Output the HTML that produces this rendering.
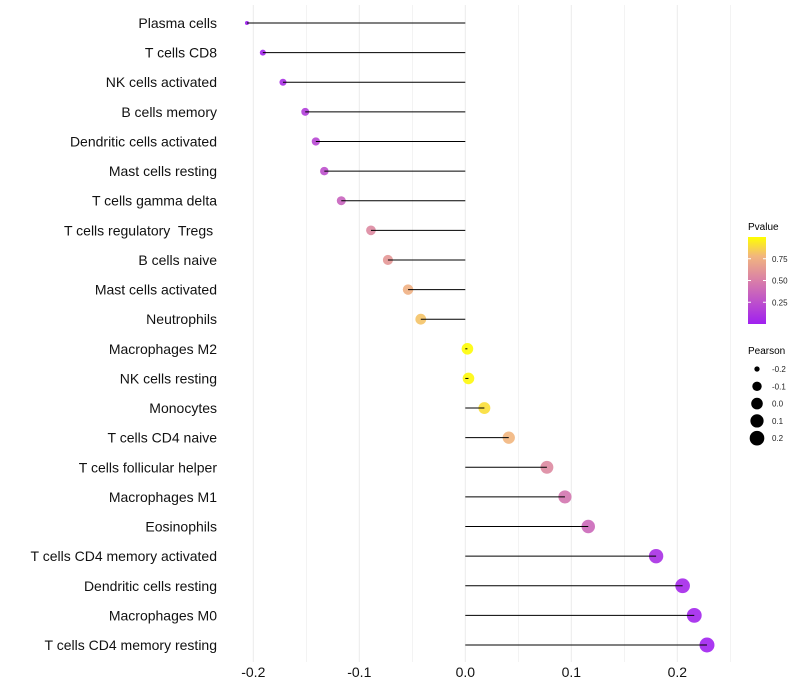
<!DOCTYPE html>
<html><head><meta charset="utf-8"><style>
body{margin:0;background:#fff;font-family:"Liberation Sans",sans-serif;}
svg{display:block}
#ylabels text{white-space:pre}
</style></head><body>
<svg id="chart" width="800" height="700">
<g id="grid"></g>
<g id="ylabels"></g>
<g id="xlabels"></g>
<g id="marks"></g>
<g id="legend">
 <defs><linearGradient id="pg" x1="0" y1="1" x2="0" y2="0">
  <stop offset="0" stop-color="#A020F0"/><stop offset="0.5" stop-color="#D97FA8"/><stop offset="0.78" stop-color="#F2B67E"/><stop offset="1" stop-color="#FFFF00"/>
 </linearGradient></defs>
 <text x="748" y="230" font-size="10">Pvalue</text>
 <rect x="748" y="237" width="18" height="87" fill="url(#pg)"/>
 <g id="cbticks"></g>
 <text x="748" y="354" font-size="10">Pearson</text>
 <g id="sizeleg"></g>
</g>
</svg>
<script>
const categories=["Plasma cells","T cells CD8","NK cells activated","B cells memory","Dendritic cells activated","Mast cells resting","T cells gamma delta","T cells regulatory  Tregs ","B cells naive","Mast cells activated","Neutrophils","Macrophages M2","NK cells resting","Monocytes","T cells CD4 naive","T cells follicular helper","Macrophages M1","Eosinophils","T cells CD4 memory activated","Dendritic cells resting","Macrophages M0","T cells CD4 memory resting"];
const pearson=[-0.206,-0.191,-0.172,-0.151,-0.141,-0.133,-0.117,-0.089,-0.073,-0.054,-0.042,0.002,0.003,0.018,0.041,0.077,0.094,0.116,0.180,0.205,0.216,0.228];
const pvalues=[0.0,0.03,0.08,0.15,0.2,0.25,0.35,0.55,0.62,0.75,0.82,0.99,0.98,0.9,0.78,0.55,0.45,0.38,0.08,0.04,0.03,0.01];
const xTicks=[-0.2,-0.1,0.0,0.1,0.2];
const xTickLabels=["-0.2","-0.1","0.0","0.1","0.2"];
const cbTicks=[0.25,0.5,0.75];
const cbTickLabels=["0.25","0.50","0.75"];
const sizeLegVals=[-0.2,-0.1,0.0,0.1,0.2];
const sizeLegLabels=["-0.2","-0.1","0.0","0.1","0.2"];

const NS="http://www.w3.org/2000/svg";
const x=v=>465.3+v*1060;
const y=i=>23+i*(622/21);
const rad=v=>2+5.5*Math.sqrt(Math.max(0,(v+0.206))/0.434);
const stops=[[0,[160,32,240]],[0.5,[217,127,168]],[0.78,[242,182,126]],[1,[255,255,0]]];
function col(p){for(let k=1;k<stops.length;k++){if(p<=stops[k][0]){const a=stops[k-1],b=stops[k];const t=(p-a[0])/(b[0]-a[0]);return "rgb("+a[1].map((c,j)=>Math.round(c+(b[1][j]-c)*t)).join(",")+")";}}return "rgb(255,255,0)";}
function mk(tag,attrs,parent){const e=document.createElementNS(NS,tag);for(const k in attrs)e.setAttribute(k,attrs[k]);parent.appendChild(e);return e;}

const grid=document.getElementById('grid');
for(let k=-4;k<=5;k++){
 const v=k*0.05;
 const l=mk('line',{x1:x(v),x2:x(v),y1:5,y2:662,stroke:'#ebebeb','stroke-width':k%2==0?1:0.6},grid);
 
 
}
const xl=document.getElementById('xlabels');
xTicks.forEach((v,i)=>{
 const t=mk('text',{x:x(v),y:677,'font-size':14,'text-anchor':'middle',fill:'#111'},xl);
 t.textContent=xTickLabels[i];
 
 
});
const yl=document.getElementById('ylabels');
const marks=document.getElementById('marks');
categories.forEach((c,i)=>{
 const t=mk('text',{x:217,y:y(i)+5,'font-size':14,'text-anchor':'end',fill:'#111'},yl);
 t.textContent=c;
 
 
 const c1=mk('circle',{cx:x(pearson[i]),cy:y(i),r:rad(pearson[i]),fill:col(pvalues[i]),'fill-opacity':0.9},marks);
 
 
 const s=mk('line',{x1:x(0),x2:x(pearson[i]),y1:y(i),y2:y(i),stroke:'#000','stroke-width':1},marks);
 
 
});
const cbt=document.getElementById('cbticks');
cbTicks.forEach((v,i)=>{
 const yy=324-v*87;
 mk('line',{x1:748,x2:751,y1:yy,y2:yy,stroke:'#fff'},cbt);
 mk('line',{x1:763,x2:766,y1:yy,y2:yy,stroke:'#fff'},cbt);
 const t=mk('text',{x:772,y:yy+3,'font-size':8,fill:'#222'},cbt);
 t.textContent=cbTickLabels[i];
 
 
});
const sl=document.getElementById('sizeleg');
sizeLegVals.forEach((v,i)=>{
 const yy=369+i*17.3;
 const c=mk('circle',{cx:757,cy:yy,r:rad(v),fill:'#000'},sl);
 
 
 const t=mk('text',{x:772,y:yy+3,'font-size':8,fill:'#222'},sl);
 t.textContent=sizeLegLabels[i];
 
 
});
</script>
</body></html>
